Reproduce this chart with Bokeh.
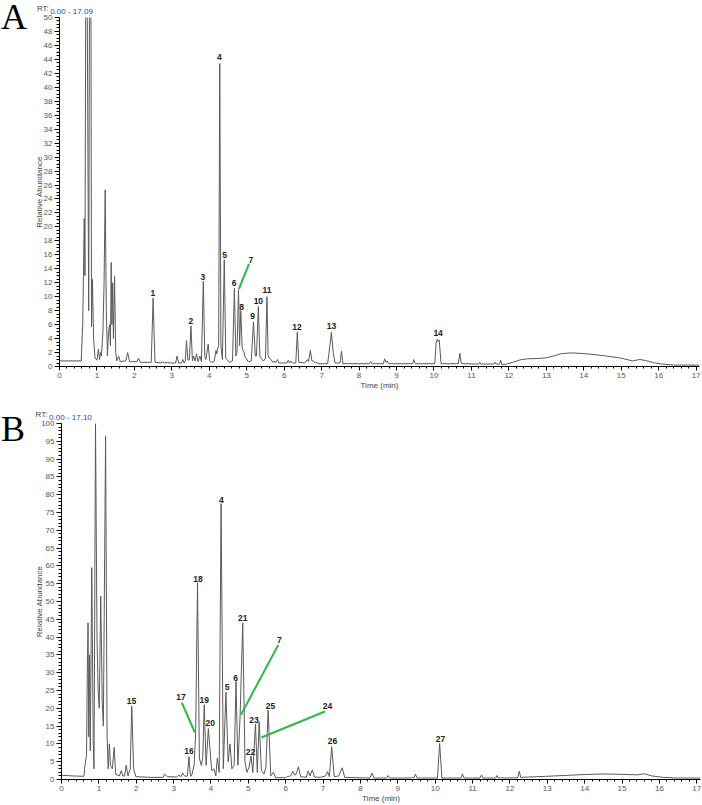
from bokeh.plotting import figure
from bokeh.layouts import column, row
from bokeh.models import SingleIntervalTicker, FixedTicker, LinearAxis, Range1d, Div
from bokeh.core.properties import value
from bokeh.embed import file_html
from bokeh.resources import INLINE

# ---------------- Panel A: chromatogram trace (time, relative abundance) ----------------
a_time = [0.00, 0.58, 0.62, 0.64, 0.66, 0.68, 0.70, 0.74, 0.78, 0.80, 0.84, 0.855, 0.88, 0.91, 0.95,
          1.00, 1.04, 1.07, 1.09, 1.12, 1.16, 1.19, 1.22, 1.25, 1.28, 1.31, 1.34, 1.36, 1.38, 1.40,
          1.42, 1.44, 1.47, 1.50, 1.53, 1.58, 1.62, 1.77, 1.82, 1.87, 2.07, 2.11, 2.16, 2.45, 2.50,
          2.55, 2.72, 2.75, 2.80, 2.88, 2.95, 3.10, 3.14, 3.18, 3.26, 3.29, 3.33, 3.36, 3.39, 3.43,
          3.47, 3.51, 3.55, 3.58, 3.62, 3.66, 3.70, 3.75, 3.79, 3.84, 3.88, 3.91, 3.97, 4.01, 4.06,
          4.13, 4.18, 4.20, 4.22, 4.25, 4.28, 4.31, 4.35, 4.40, 4.44, 4.47, 4.54, 4.62, 4.67, 4.71,
          4.74, 4.78, 4.81, 4.84, 4.88, 4.92, 4.95, 4.98, 5.04, 5.12, 5.18, 5.23, 5.26, 5.31, 5.35,
          5.38, 5.44, 5.47, 5.50, 5.54, 5.57, 5.60, 5.65, 5.69, 5.73, 5.77, 5.82, 5.86, 5.96, 6.07,
          6.11, 6.14, 6.18, 6.22, 6.31, 6.35, 6.39, 6.55, 6.62, 6.65, 6.70, 6.74, 6.78, 6.83, 6.87,
          6.90, 7.16, 7.22, 7.26, 7.31, 7.36, 7.49, 7.53, 7.57, 8.27, 8.31, 8.35, 8.65, 8.68, 8.72,
          8.75, 8.79, 9.43, 9.46, 9.50, 10.02, 10.06, 10.09, 10.11, 10.14, 10.19, 10.65, 10.69, 10.73,
          11.19, 11.22, 11.25, 11.60, 11.63, 11.66, 11.75, 11.78, 11.81, 11.90, 12.10, 12.30, 12.50,
          12.80, 13.00, 13.20, 13.40, 13.70, 14.00, 14.30, 14.60, 15.00, 15.30, 15.50, 15.65, 15.90,
          16.10, 16.40, 17.09]
a_abund = [0.8, 0.8, 6, 13, 21.2, 13, 52, 52, 8, 52, 52, 5.7, 12.5, 4, 1.2,
           0.9, 2.5, 1.0, 2.0, 1.5, 5, 12, 25.3, 8, 1.5, 5, 6, 3, 14.9, 6,
           12, 4, 12.9, 2, 0.8, 1.5, 0.7, 0.8, 2.0, 0.7, 0.7, 1.2, 0.6, 0.6, 9.8,
           0.6, 0.5, 0.7, 0.5, 0.6, 0.5, 0.5, 1.5, 0.5, 0.5, 1.0, 0.5, 0.8, 3.7, 0.9,
           1.0, 5.8, 0.8, 1.5, 0.8, 1.8, 0.7, 1.5, 0.7, 12.2, 1.3, 1.0, 3.2, 0.8, 0.6,
           0.7, 2.3, 1.8, 2.5, 3.0, 43.4, 3.0, 1.0, 15.3, 1.2, 1.0, 0.6, 0.8, 11.2, 1.5,
           2.0, 11.0, 3.0, 8.0, 2.5, 2.2, 1.4, 1.2, 0.7, 0.8, 6.4, 1.5, 1.5, 8.6, 1.5,
           1.2, 0.8, 0.9, 1.2, 10.0, 1.6, 1.2, 1.0, 0.6, 0.8, 0.5, 1.0, 0.5, 0.5, 0.5,
           0.9, 0.5, 0.8, 0.5, 0.5, 4.9, 0.6, 0.5, 1.0, 0.7, 2.3, 0.8, 0.8, 0.5, 0.6,
           0.4, 0.4, 3.0, 4.9, 2.0, 0.5, 0.5, 2.2, 0.4, 0.4, 0.7, 0.4, 0.4, 1.1, 0.6,
           0.8, 0.4, 0.4, 1.0, 0.4, 0.4, 3.5, 3.9, 3.6, 3.8, 0.4, 0.4, 1.9, 0.4,
           0.35, 0.6, 0.35, 0.35, 0.6, 0.35, 0.35, 0.9, 0.3, 0.3, 0.6, 0.95, 1.1,
           1.15, 1.25, 1.5, 1.85, 1.95, 1.85, 1.7, 1.5, 1.2, 0.8, 1.0, 0.85, 0.5,
           0.35, 0.2, 0.2]

a_peak_names = ["1", "2", "3", "4", "5", "6", "7", "8", "9", "10", "11", "12", "13", "14"]
a_peak_time = [2.49, 3.51, 3.83, 4.27, 4.41, 4.66, 5.11, 4.86, 5.16, 5.31, 5.54, 6.34, 7.26, 10.11]
a_peak_label_y = [10.6, 6.5, 12.8, 44.3, 16.0, 11.9, 15.3, 8.5, 7.3, 9.4, 10.9, 5.7, 5.8, 4.8]

a_lead_t0 = [5.06]
a_lead_y0 = [14.7]
a_lead_t1 = [4.79]
a_lead_y1 = [11.1]

# ---------------- Panel B ----------------
b_time = [0.00, 0.30, 0.60, 0.63, 0.65, 0.67, 0.69, 0.71, 0.73, 0.75, 0.77, 0.81, 0.85, 0.87, 0.91,
          0.95, 0.98, 1.01, 1.05, 1.09, 1.12, 1.18, 1.22, 1.25, 1.28, 1.31, 1.36, 1.41, 1.45, 1.55,
          1.60, 1.64, 1.69, 1.73, 1.78, 1.84, 1.88, 1.93, 1.99, 2.37, 2.72, 2.76, 2.83, 3.08, 3.14,
          3.20, 3.24, 3.30, 3.37, 3.41, 3.45, 3.48, 3.55, 3.59, 3.64, 3.69, 3.74, 3.78, 3.82, 3.87,
          3.93, 3.97, 4.02, 4.08, 4.13, 4.17, 4.22, 4.27, 4.33, 4.40, 4.46, 4.51, 4.56, 4.62, 4.67,
          4.72, 4.78, 4.85, 4.91, 4.96, 5.02, 5.07, 5.12, 5.19, 5.24, 5.29, 5.35, 5.42, 5.47, 5.53,
          5.60, 5.67, 5.73, 6.00, 6.04, 6.13, 6.19, 6.25, 6.29, 6.34, 6.40, 6.55, 6.60, 6.65, 6.71,
          6.77, 6.93, 7.07, 7.12, 7.17, 7.23, 7.30, 7.42, 7.51, 7.58, 8.25, 8.31, 8.36, 8.70, 8.74,
          8.78, 9.36, 9.39, 9.43, 9.47, 9.52, 10.06, 10.12, 10.18, 10.69, 10.73, 10.77, 11.20, 11.24,
          11.28, 11.62, 11.65, 11.69, 11.78, 11.85, 12.21, 12.25, 12.29, 12.50, 13.00, 13.50, 14.00,
          14.50, 15.00, 15.40, 15.60, 15.80, 16.10, 16.50, 17.10]
b_abund = [1.2, 1.0, 0.9, 4, 5.5, 7, 30, 44, 12, 35, 8, 59.5, 10, 3, 100,
           40, 25, 20, 51.5, 22, 15, 96.5, 12, 3, 10, 4, 3, 9, 1.5, 1.0,
           2.5, 1.0, 1.0, 4, 1.0, 3, 20.6, 3, 0.8, 0.6, 0.6, 1.5, 0.8, 0.7, 1.2,
           0.8, 1.8, 0.9, 1, 6.4, 1, 1, 4, 13, 55.3, 6, 4, 6, 21, 4,
           14.3, 9, 2.5, 3, 1, 6, 2, 77.5, 3, 24.5, 5, 10, 3, 4, 27.5,
           4, 18, 43.9, 5, 2, 3.5, 6.6, 2, 15.6, 2, 16.2, 2.5, 1.5, 3.5, 19.5,
           1, 2, 0.5, 0.5, 0.8, 1, 2.3, 1.2, 1.8, 3.6, 0.8, 0.6, 2.4, 1, 2.7,
           0.7, 0.6, 1, 2.2, 0.8, 9.2, 0.8, 1, 3.3, 0.6, 0.4, 1.8, 0.4, 0.4, 1.1,
           0.4, 0.4, 0.6, 0.4, 1.5, 0.4, 0.4, 10.1, 0.4, 0.4, 1.6, 0.4, 0.4, 1.3,
           0.4, 0.4, 1.1, 0.4, 0.5, 0.4, 0.5, 2.3, 0.6, 0.7, 0.9, 1.15, 1.4,
           1.55, 1.45, 1.3, 1.6, 1.0, 0.6, 0.4, 0.4]

b_peak_names = ["15", "16", "17", "18", "19", "20", "4", "5", "6", "21", "7", "22", "23", "24",
                "25", "26", "27"]
b_peak_time = [1.87, 3.41, 3.20, 3.65, 3.82, 3.98, 4.28, 4.43, 4.66, 4.85, 5.83, 5.06, 5.15, 7.12,
               5.59, 7.25, 10.14]
b_peak_label_y = [22.0, 7.9, 23.1, 56.3, 22.3, 16.0, 78.6, 26.0, 28.6, 45.3, 39.1, 7.7, 16.6, 20.6,
                  20.6, 10.7, 11.4]

b_lead_t0 = [3.22, 5.80, 7.05]
b_lead_y0 = [21.6, 37.8, 19.1]
b_lead_t1 = [3.57, 4.80, 5.35]
b_lead_y1 = [13.2, 18.1, 11.8]

FONT = "Liberation Sans"
NBSP = "\u00a0"
GUTTER = 30
SMALL = "8px"
HEADER = "8px"


def bare_axis(**kw):
    return LinearAxis(axis_line_color=None, major_tick_line_color=None,
                      minor_tick_line_color=None, major_tick_out=0, minor_tick_out=0,
                      major_tick_in=0, minor_tick_in=0, **kw)


def letter_gutter(height, letter, top_px):
    html = ('<div style="position:relative;left:1px;top:%dpx;font-family:\'Liberation Serif\';'
            'font-size:36px;line-height:34px;color:#000000;">%s</div>' % (top_px, letter))
    return Div(text=html, width=GUTTER, height=height, margin=0)


def make_panel(width, height, left, right, top, bottom, xmax, ymax, yint, yminor, ylab_standoff,
               t, ab, names, pt, py, l0x, l0y, l1x, l1y, rt_text, rt_num_x, rt_pad):
    p = figure(width=width, height=height, output_backend="svg", toolbar_location=None,
               x_range=Range1d(0, xmax), y_range=Range1d(0, ymax),
               min_border_left=left, min_border_right=right,
               min_border_top=top, min_border_bottom=bottom)
    p.outline_line_color = None
    p.xgrid.visible = False
    p.ygrid.visible = False
    p.background_fill_color = "white"

    p.xaxis.ticker = SingleIntervalTicker(interval=1, num_minor_ticks=5)
    p.yaxis.ticker = SingleIntervalTicker(interval=yint, num_minor_ticks=yminor)
    for ax in (p.xaxis, p.yaxis):
        ax.axis_line_color = "black"
        ax.axis_line_width = 1
        ax.major_tick_line_color = "black"
        ax.minor_tick_line_color = "black"
        ax.major_tick_in = 0
        ax.minor_tick_in = 0
        ax.major_label_text_font = FONT
        ax.major_label_text_font_size = SMALL
        ax.major_label_text_color = "#555555"
        ax.axis_label_text_font = FONT
        ax.axis_label_text_font_size = SMALL
        ax.axis_label_text_font_style = "normal"
        ax.axis_label_text_color = "#444444"
        ax.axis_label_standoff = 0
        ax.major_label_standoff = 2
    p.yaxis.axis_label_standoff = ylab_standoff
    p.xaxis.major_tick_out = 4
    p.xaxis.minor_tick_out = 2
    p.yaxis.major_tick_out = 5
    p.yaxis.minor_tick_out = 3
    p.xaxis.axis_label = "Time (min)"
    p.yaxis.axis_label = "Relative Abundance"

    # "RT: 0.00 - 17.xx" header: blue range on the inner axis, grey "RT:" on the outer one
    num_axis = bare_axis(ticker=FixedTicker(ticks=[rt_num_x]),
                         major_label_overrides={rt_num_x: rt_text},
                         major_label_text_font=FONT, major_label_text_font_size=HEADER,
                         major_label_text_color="#2a3fd0", major_label_standoff=2)
    p.add_layout(num_axis, "above")
    rt_axis = bare_axis(ticker=FixedTicker(ticks=[0]),
                        major_label_overrides={0: "RT:" + NBSP * rt_pad},
                        major_label_text_font=FONT, major_label_text_font_size=HEADER,
                        major_label_text_color="#444444", major_label_standoff=-9)
    p.add_layout(rt_axis, "above")

    p.line(t, ab, line_color="#5a5a5a", line_width=1)

    p.segment(x0=l0x, y0=l0y, x1=l1x, y1=l1y, line_color="#2fb84a", line_width=2)

    p.text(x=pt, y=py, text=names, text_align="center", text_baseline="middle",
           text_font=value(FONT), text_font_style="bold", text_font_size="8.5px",
           text_color="#222222")
    return p


pA = make_panel(702 - GUTTER, 392, 59 - GUTTER, 3, 12, 25, 17.09, 50, 2, 4, -3,
                a_time, a_abund, a_peak_names, a_peak_time, a_peak_label_y,
                a_lead_t0, a_lead_y0, a_lead_t1, a_lead_y1, "0.00 - 17.09", 0.32, 15)
pB = make_panel(702 - GUTTER, 413, 61 - GUTTER, 2, 31, 23, 17.10, 100, 5, 5, -6,
                b_time, b_abund, b_peak_names, b_peak_time, b_peak_label_y,
                b_lead_t0, b_lead_y0, b_lead_t1, b_lead_y1, "0.00 - 17.10", 0.24, 18)

layout = column(row(letter_gutter(392, "A", 0), pA, spacing=0),
                row(letter_gutter(413, "B", 20), pB, spacing=0), spacing=0)
open("out.html", "w").write(file_html(layout, INLINE))
